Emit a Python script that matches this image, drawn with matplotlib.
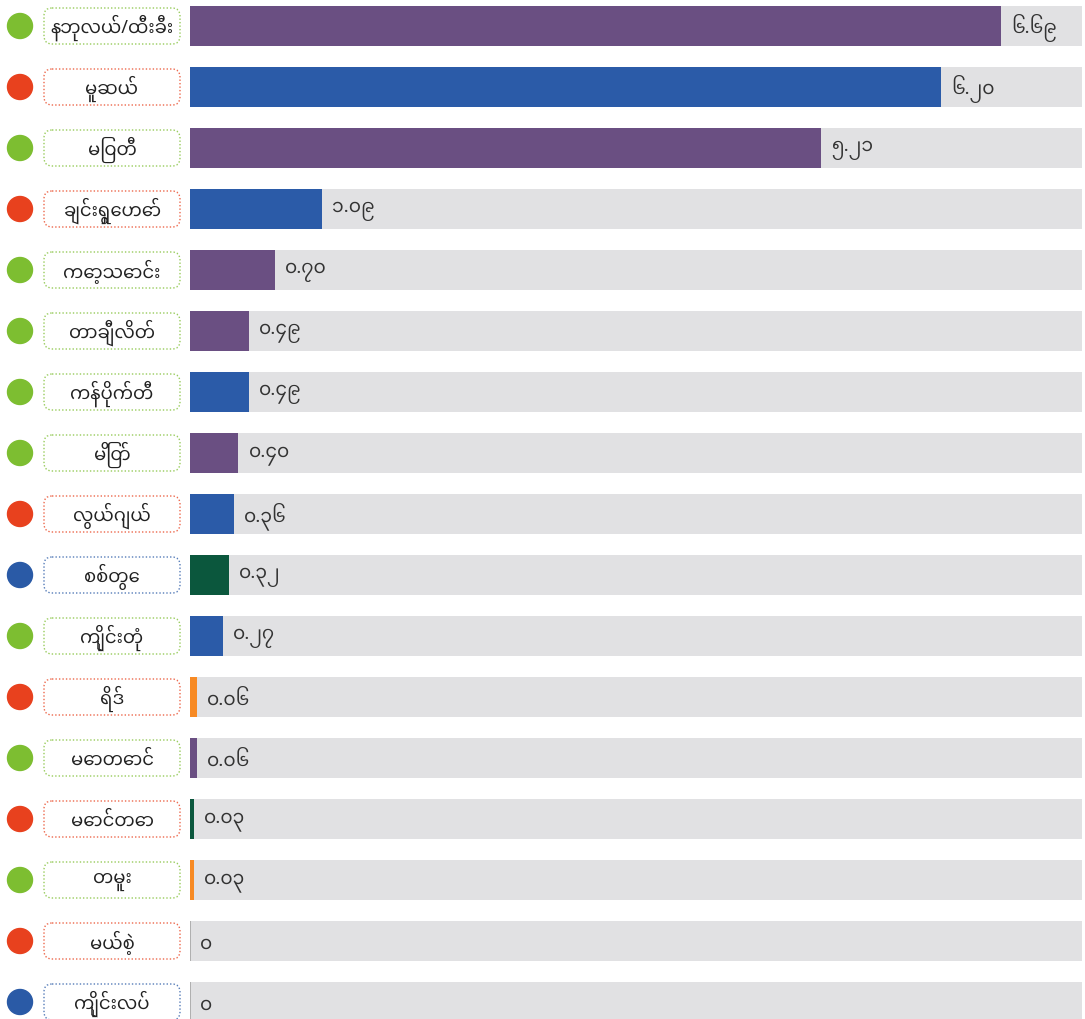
import numpy as np
import matplotlib as mpl
mpl.use('Agg')
import matplotlib.pyplot as plt
from matplotlib import font_manager
from matplotlib.patches import FancyBboxPatch, Circle

# Myanmar font first, latin fallback after
names = set(f.name for f in font_manager.fontManager.ttflist)
fams = [f for f in ['Noto Sans Myanmar', 'Myanmar Sans Pro', 'Noto Sans Myanmar UI'] if f in names]
plt.rcParams['font.family'] = fams[:1] + ['Noto Sans', 'DejaVu Sans']

# data
towns = ['နဘုလယ်/ထီးခီး', 'မူဆယ်', 'မြဝတီ', 'ချင်းရွှေဟော်', 'ကော့သောင်း',
         'တာချီလိတ်', 'ကန်ပိုက်တီ', 'မြိတ်', 'လွယ်ဂျယ်', 'စစ်တွေ',
         'ကျိုင်းတုံ', 'ရိဒ်', 'မောတောင်', 'မောင်တော', 'တမူး',
         'မယ်စဲ့', 'ကျိုင်းလပ်']
values = [6.69, 6.20, 5.21, 1.09, 0.70, 0.49, 0.49, 0.40, 0.36, 0.32,
          0.27, 0.06, 0.06, 0.03, 0.03, 0.0, 0.0]
value_labels = ['၆.၆၉', '၆.၂၀', '၅.၂၁', '၁.၀၉', '၀.၇၀', '၀.၄၉', '၀.၄၉', '၀.၄၀',
                '၀.၃၆', '၀.၃၂', '၀.၂၇', '၀.၀၆', '၀.၀၆', '၀.၀၃', '၀.၀၃', '၀', '၀']
bar_groups = ['purple', 'blue', 'purple', 'blue', 'purple', 'purple', 'blue',
              'purple', 'blue', 'green', 'blue', 'orange', 'purple', 'green',
              'orange', 'none', 'none']
dot_groups = ['green', 'red', 'green', 'red', 'green', 'green', 'green', 'green',
              'red', 'blue', 'green', 'red', 'green', 'red', 'green', 'red', 'blue']

bar_colors = {'purple': '#6a4f82', 'blue': '#2b5ba8', 'green': '#0b573d',
              'orange': '#f78a24', 'none': '#b0b0b0'}
dot_colors = {'green': '#7dbe31', 'red': '#e8411e', 'blue': '#2a5aa6'}

W, H = 1085, 1019
fig = plt.figure(figsize=(W / 100, H / 100), dpi=100)

n = len(towns)
y = np.arange(n)
y_top = -26 / 61
y_bot = (H - 26) / 61
xmax = 892 / 121.2

# bar area
ax = fig.add_axes([190 / W, 0, 892 / W, 1])
ax.set_xlim(0, xmax)
ax.set_ylim(y_bot, y_top)
ax.axis('off')

ax.barh(y, [xmax] * n, height=40 / 61, color='#e1e1e3', zorder=1)
for i, v in enumerate(values):
    if v > 0:
        ax.barh(i, v, height=40 / 61, color=bar_colors[bar_groups[i]], zorder=2)
    else:
        ax.barh(i, 0.012, height=40 / 61, color=bar_colors['none'], zorder=2)
    ax.text(v + 10 / 121.2, i + 0.04, value_labels[i], va='center', ha='left',
            fontsize=13.5, color='#333333', zorder=3)

# left labels
lx = fig.add_axes([0, 0, 190 / W, 1])
lx.set_xlim(0, 190)
lx.set_ylim(H, 0)
lx.axis('off')
for i, t in enumerate(towns):
    cy = 26 + 61 * i
    c = dot_colors[dot_groups[i]]
    lx.add_patch(Circle((20, cy), 12.5, color=c))
    lx.add_patch(FancyBboxPatch((44, cy - 18), 136, 36,
                                boxstyle='round,pad=0,rounding_size=8',
                                fill=False, edgecolor=c, linestyle=(0, (1, 1.5)),
                                linewidth=1.0, alpha=0.8))
    lx.text(112, cy + 2, t, ha='center', va='center', fontsize=13, color='#222222')

plt.savefig('out.png', dpi=100)
